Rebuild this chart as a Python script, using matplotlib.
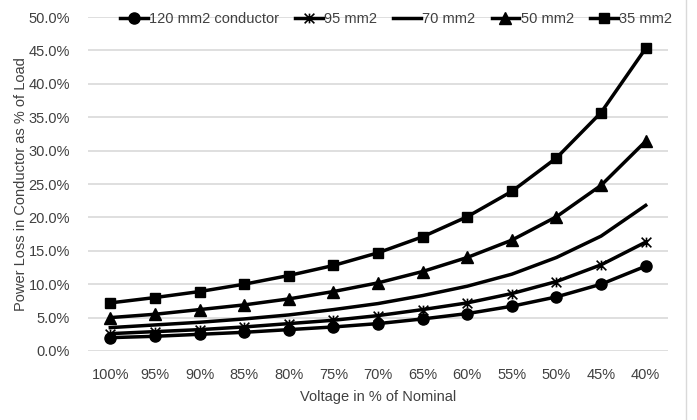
import matplotlib
matplotlib.use("Agg")
import matplotlib.pyplot as plt
from matplotlib.path import Path
from matplotlib.ticker import PercentFormatter

plt.rcParams['font.family'] = ['Liberation Sans', 'DejaVu Sans']

# Data
voltages = ["100%", "95%", "90%", "85%", "80%", "75%", "70%",
            "65%", "60%", "55%", "50%", "45%", "40%"]
loss_120 = [2.0, 2.2, 2.5, 2.8, 3.2, 3.6, 4.1, 4.8, 5.6, 6.7, 8.1, 10.0, 12.7]
loss_95 = [2.6, 2.9, 3.2, 3.6, 4.1, 4.6, 5.3, 6.2, 7.2, 8.6, 10.4, 12.9, 16.3]
loss_70 = [3.5, 3.9, 4.3, 4.8, 5.4, 6.2, 7.1, 8.3, 9.7, 11.5, 14.0, 17.2, 21.8]
loss_50 = [5.0, 5.5, 6.2, 6.9, 7.8, 8.9, 10.2, 11.9, 14.0, 16.6, 20.1, 24.8, 31.4]
loss_35 = [7.2, 8.0, 8.9, 10.0, 11.3, 12.8, 14.7, 17.1, 20.1, 23.9, 28.9, 35.7, 45.3]

# Excel-like "star" marker: an X with a vertical bar
star = Path([(-1, -1), (1, 1), (-1, 1), (1, -1), (0, -1), (0, 1)],
            [Path.MOVETO, Path.LINETO, Path.MOVETO, Path.LINETO, Path.MOVETO, Path.LINETO])

fig = plt.figure(figsize=(6.97, 4.2), dpi=100)
ax = fig.add_axes([88 / 697, 1 - 351 / 420, 580 / 697, 334 / 420])

x = range(len(voltages))
lw = 2.5
ax.plot(x, loss_120, color='black', lw=lw, marker='o', ms=8, label='120 mm2 conductor')
ax.plot(x, loss_95, color='black', lw=lw, marker=star, ms=7, mew=1.2, mfc='white',
        label='95 mm2')
ax.plot(x, loss_70, color='black', lw=lw, label='70 mm2')
ax.plot(x, loss_50, color='black', lw=lw, marker='^', ms=8, label='50 mm2')
ax.plot(x, loss_35, color='black', lw=lw, marker='s', ms=6.5, label='35 mm2')

ax.set_xlim(-0.5, len(voltages) - 0.5)
ax.set_ylim(0, 50)
ax.set_yticks(range(0, 51, 5))
ax.yaxis.set_major_formatter(PercentFormatter(decimals=1))
ax.set_xticks(list(x))
ax.set_xticklabels(voltages)

ax.grid(axis='y', color='#d9d9d9', lw=1.2)
ax.set_axisbelow(True)
for s in ax.spines.values():
    s.set_visible(False)
ax.tick_params(length=0, labelsize=10.5, colors='#404040')
ax.tick_params(axis='y', pad=13)
ax.tick_params(axis='x', pad=12)

ax.set_xlabel("Voltage in % of Nominal", fontsize=10.5, color='#404040', labelpad=6)
ax.set_ylabel("Power Loss in Conductor as % of Load", fontsize=10.5, color='#404040',
              labelpad=0)

leg = ax.legend(loc='center', bbox_to_anchor=(0.531, 0.994), ncol=5, frameon=False,
                fontsize=10.5, handlelength=1.9, handletextpad=0.1, columnspacing=1.1,
                borderaxespad=0)
for t in leg.get_texts():
    t.set_color('#404040')

# light chart border on the right
fig.add_artist(plt.Line2D([686 / 697, 686 / 697], [0, 1], color='#d9d9d9', lw=1))

fig.savefig("out.png", dpi=100, facecolor='white')
